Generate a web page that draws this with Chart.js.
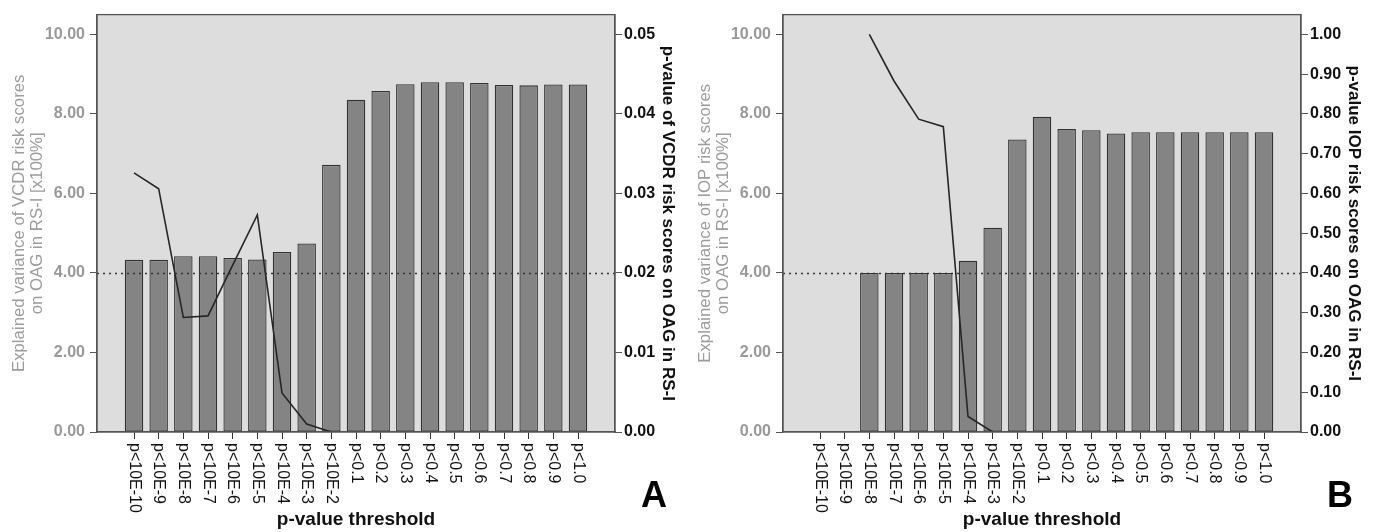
<!DOCTYPE html>
<html>
<head>
<meta charset="utf-8">
<script src="https://cdn.jsdelivr.net/npm/chart.js@4.4.1/dist/chart.umd.min.js"></script>
<style>
  html, body { margin: 0; padding: 0; background: #fff; }
  #wrap { position: relative; width: 1373px; height: 532px; }
  .panel { position: absolute; top: 0; width: 687px; height: 532px; }
</style>
</head>
<body>
<div id="wrap">
  <div class="panel" style="left:0"><canvas id="chartA" width="687" height="532"></canvas></div>
  <div class="panel" style="left:686px"><canvas id="chartB" width="687" height="532"></canvas></div>
</div>
<script>
// data
const thresholds = ['p<10E-10', 'p<10E-9', 'p<10E-8', 'p<10E-7', 'p<10E-6', 'p<10E-5', 'p<10E-4', 'p<10E-3', 'p<10E-2',
  'p<0.1', 'p<0.2', 'p<0.3', 'p<0.4', 'p<0.5', 'p<0.6', 'p<0.7', 'p<0.8', 'p<0.9', 'p<1.0'];

const vcdrVariance = [4.33, 4.33, 4.42, 4.42, 4.38, 4.34, 4.53, 4.74, 6.72, 8.36, 8.58, 8.75, 8.80, 8.80, 8.78, 8.73, 8.72, 8.74, 8.74];
const vcdrPValue = [0.0326, 0.0306, 0.0144, 0.0146, 0.0210, 0.0273, 0.0049, 0.0010, 0.0000,
  null, null, null, null, null, null, null, null, null, null];

const iopVariance = [null, null, 4.00, 4.00, 4.00, 4.00, 4.31, 5.14, 7.36, 7.93, 7.62, 7.59, 7.51, 7.54, 7.54, 7.54, 7.54, 7.54, 7.54];
const iopPValue = [null, null, 1.00, 0.883, 0.787, 0.768, 0.039, 0.000,
  null, null, null, null, null, null, null, null, null, null, null];

const varianceTicks = [0, 2, 4, 6, 8, 10];
const vcdrPTicks = [0, 0.01, 0.02, 0.03, 0.04, 0.05];
const iopPTicks = [0, 0.1, 0.2, 0.3, 0.4, 0.5, 0.6, 0.7, 0.8, 0.9, 1.0];
const refLine = 4;

const FONT = "'Liberation Sans', Arial, sans-serif";

// one empty slot on each side gives the wide margin of the original plot
const pad = arr => [null, ...arr, null];
const labels = ['', ...thresholds, ''];

const decor = {
  id: 'decor',
  beforeDraw(chart) {
    const { ctx, chartArea: a } = chart;
    ctx.save();
    ctx.fillStyle = '#dddddd';
    ctx.fillRect(a.left, a.top, a.right - a.left, a.bottom - a.top);
    ctx.restore();
  },
  afterDatasetsDraw(chart) {
    const { ctx, chartArea: a, scales } = chart;
    const y = Math.round(scales.y.getPixelForValue(refLine)) + 0.5;
    ctx.save();
    ctx.strokeStyle = '#333';
    ctx.lineWidth = 1.4;
    ctx.setLineDash([2, 4]);
    ctx.beginPath();
    ctx.moveTo(a.left, y);
    ctx.lineTo(a.right, y);
    ctx.stroke();
    ctx.restore();
  },
  afterDraw(chart, args, opts) {
    const { ctx, chartArea: a, scales } = chart;
    ctx.save();
    // frame
    ctx.strokeStyle = '#555';
    ctx.lineWidth = 1.3;
    ctx.strokeRect(a.left, a.top, a.right - a.left, a.bottom - a.top);

    // category labels, rotated clockwise
    ctx.fillStyle = '#111';
    ctx.font = '16px ' + FONT;
    ctx.textAlign = 'left';
    ctx.textBaseline = 'middle';
    thresholds.forEach((t, i) => {
      const x = scales.x.getPixelForValue(i + 1);
      ctx.save();
      ctx.translate(x, a.bottom + 11);
      ctx.rotate(Math.PI / 2);
      ctx.fillText(t, 0, 0);
      ctx.restore();
    });

    // grey left title
    ctx.fillStyle = '#9c9c9c';
    ctx.font = '16.8px ' + FONT;
    ctx.textAlign = 'center';
    const cy = (a.top + a.bottom) / 2;
    opts.leftTitle.forEach((line, k) => {
      ctx.save();
      ctx.translate(19 + k * 18, cy);
      ctx.rotate(-Math.PI / 2);
      ctx.fillText(line, 0, 0);
      ctx.restore();
    });

    // panel letter
    ctx.fillStyle = '#000';
    ctx.font = 'bold 36px ' + FONT;
    ctx.fillText(opts.letter, 654, 497);
    ctx.restore();
  }
};

function makeChart(id, variance, pvals, pMax, pTicks, leftTitle, rightTitle, letter) {
  const ctx = document.getElementById(id).getContext('2d');
  return new Chart(ctx, {
    data: {
      labels: labels,
      datasets: [
        {
          type: 'line',
          data: pad(pvals),
          yAxisID: 'p',
          borderColor: '#262626',
          borderWidth: 1.6,
          pointRadius: 0,
          tension: 0,
          spanGaps: false,
          order: 0
        },
        {
          type: 'bar',
          data: pad(variance),
          yAxisID: 'y',
          backgroundColor: '#848484',
          borderColor: '#333',
          borderWidth: 1.3,
          borderSkipped: false,
          barPercentage: 0.75,
          categoryPercentage: 1,
          order: 1
        }
      ]
    },
    options: {
      responsive: false,
      animation: false,
      layout: { padding: { top: 12 } },
      plugins: {
        legend: { display: false },
        tooltip: { enabled: false },
        decor: { leftTitle: leftTitle, letter: letter }
      },
      scales: {
        x: {
          type: 'category',
          offset: true,
          grid: {
            offset: false,
            drawOnChartArea: false,
            drawTicks: true,
            tickLength: 7,
            tickColor: c => (c.index === 0 || c.index === labels.length - 1) ? 'rgba(0,0,0,0)' : '#333'
          },
          border: { color: '#555', width: 1.3 },
          ticks: { display: false },
          title: {
            display: true,
            text: 'p-value threshold',
            color: '#111',
            font: { family: FONT, size: 19, weight: 'bold' },
            padding: { top: 0, bottom: 1 }
          },
          afterFit: s => { s.height = 100; }
        },
        y: {
          position: 'left',
          min: 0,
          max: 10.5,
          afterBuildTicks: s => { s.ticks = varianceTicks.map(v => ({ value: v })); },
          grid: { drawOnChartArea: false, tickLength: 7, tickColor: '#555' },
          border: { color: '#555', width: 1.3 },
          ticks: {
            color: '#999',
            padding: 5,
            font: { family: FONT, size: 16, weight: 'bold' },
            callback: v => v.toFixed(2)
          },
          afterFit: s => { s.width = 97; }
        },
        p: {
          position: 'right',
          min: 0,
          max: pMax,
          afterBuildTicks: s => { s.ticks = pTicks.map(v => ({ value: v })); },
          grid: { drawOnChartArea: false, tickLength: 7, tickColor: '#555' },
          border: { color: '#555', width: 1.3 },
          ticks: {
            color: '#111',
            padding: 2,
            font: { family: FONT, size: 16, weight: 'bold' },
            callback: v => v.toFixed(2)
          },
          title: {
            display: true,
            text: rightTitle,
            color: '#111',
            font: { family: FONT, size: 17, weight: 'bold' },
            padding: { top: 9, bottom: 0 }
          },
          afterFit: s => { s.width = 72; }
        }
      }
    },
    plugins: [decor]
  });
}

makeChart('chartA', vcdrVariance, vcdrPValue, 0.0525, vcdrPTicks,
  ['Explained variance of VCDR risk scores', 'on OAG in RS-I [x100%]'],
  'p-value of VCDR risk scores on OAG in RS-I', 'A');

makeChart('chartB', iopVariance, iopPValue, 1.05, iopPTicks,
  ['Explained variance of IOP risk scores', 'on OAG in RS-I [x100%]'],
  'p-value IOP risk scores on OAG in RS-I', 'B');
</script>
</body>
</html>
